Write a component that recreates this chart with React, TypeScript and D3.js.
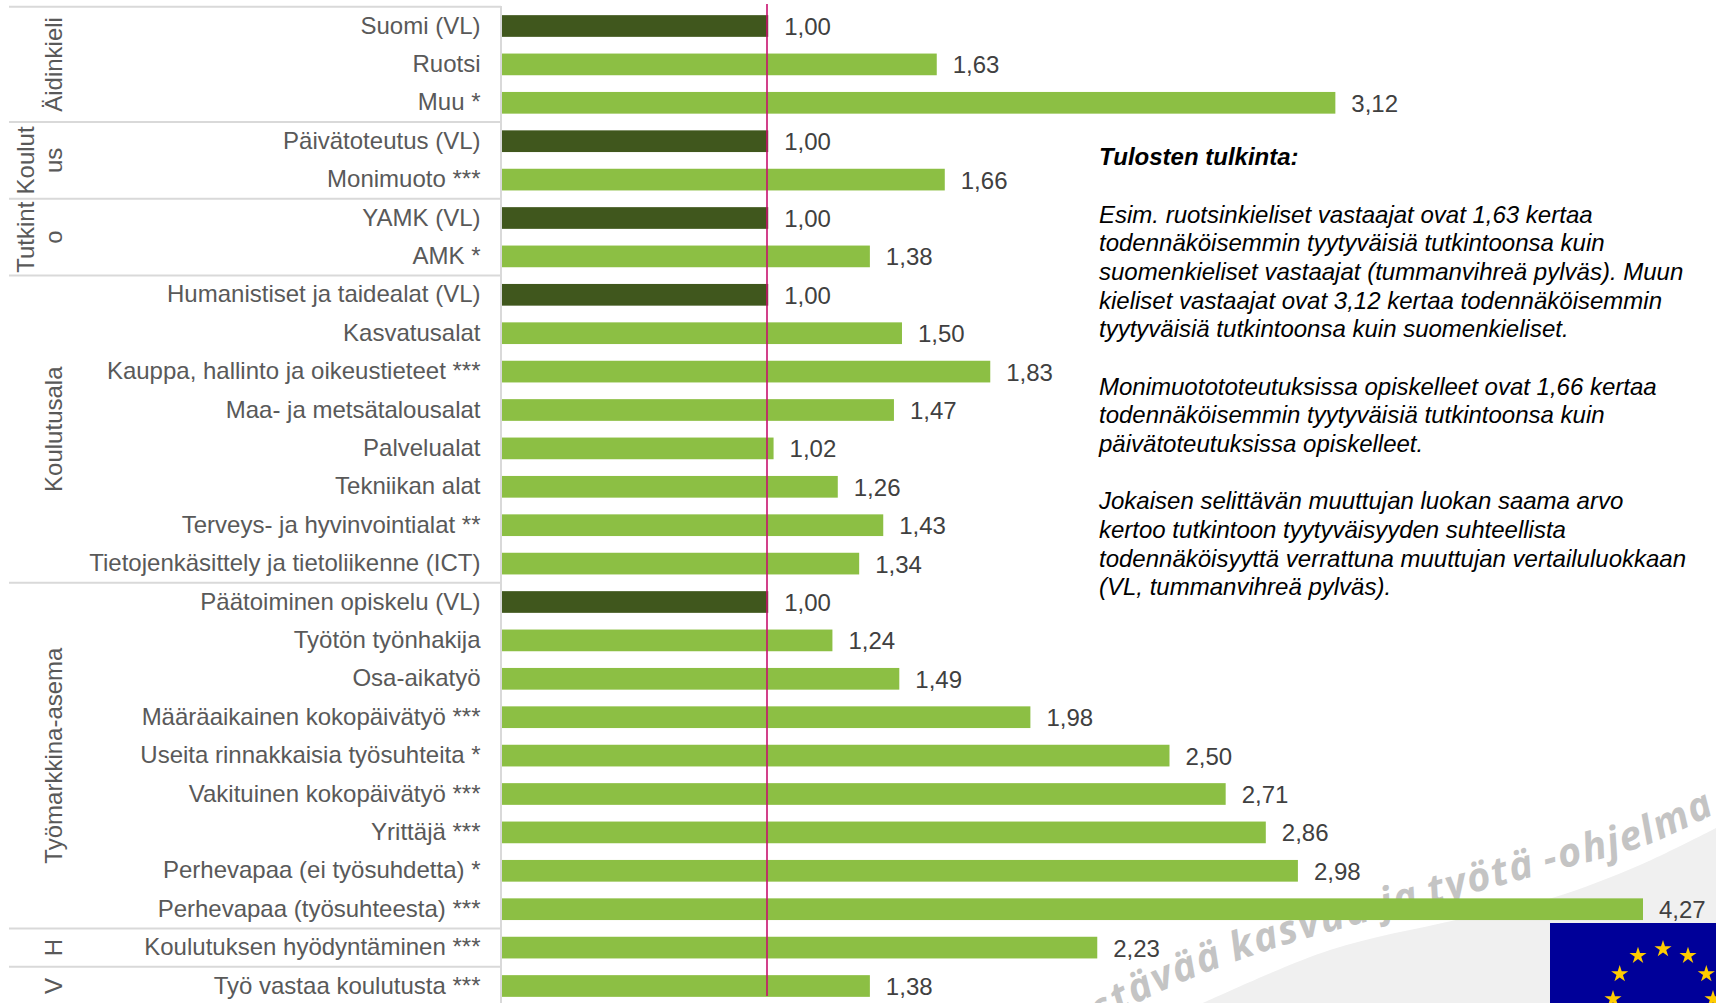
import React from "react";
import * as d3 from "d3";

const categories = ["Suomi (VL)","Ruotsi","Muu *","Päivätoteutus (VL)","Monimuoto ***","YAMK (VL)","AMK *","Humanistiset ja taidealat (VL)","Kasvatusalat","Kauppa, hallinto ja oikeustieteet ***","Maa- ja metsätalousalat","Palvelualat","Tekniikan alat","Terveys- ja hyvinvointialat **","Tietojenkäsittely ja tietoliikenne (ICT)","Päätoiminen opiskelu (VL)","Työtön työnhakija","Osa-aikatyö","Määräaikainen kokopäivätyö ***","Useita rinnakkaisia työsuhteita *","Vakituinen kokopäivätyö ***","Yrittäjä ***","Perhevapaa (ei työsuhdetta) *","Perhevapaa (työsuhteesta) ***","Koulutuksen hyödyntäminen ***","Työ vastaa koulutusta ***"];
const values = [1,1.63,3.12,1,1.66,1,1.38,1,1.5,1.83,1.47,1.02,1.26,1.43,1.34,1,1.24,1.49,1.98,2.5,2.71,2.86,2.98,4.27,2.23,1.38];
const groupNames = [["Äidinkieli"],["Koulut","us"],["Tutkint","o"],["Koulutusala"],["Työmarkkina-asema"],["H"],["V"]];
const groupSizes = [3,2,2,8,9,1,1];
const noteLines = [
  "Esim. ruotsinkieliset vastaajat ovat 1,63 kertaa","todennäköisemmin tyytyväisiä tutkintoonsa kuin","suomenkieliset vastaajat (tummanvihreä pylväs). Muun","kieliset vastaajat ovat 3,12 kertaa todennäköisemmin","tyytyväisiä tutkintoonsa kuin suomenkieliset.","",
  "Monimuotototeutuksissa opiskelleet ovat 1,66 kertaa","todennäköisemmin tyytyväisiä tutkintoonsa kuin","päivätoteutuksissa opiskelleet.","",
  "Jokaisen selittävän muuttujan luokan saama arvo","kertoo tutkintoon tyytyväisyyden suhteellista","todennäköisyyttä verrattuna muuttujan vertailuluokkaan","(VL, tummanvihreä pylväs)."];
const noteTitle = "Tulosten tulkinta:";
const watermark = "Kestävää kasvua ja työtä -ohjelma";
const starAngles = [0,30,60,90,120,150,180,210,240,270,300,330];

const W = 1716, H = 1003;
const FONT = "'Liberation Sans', Arial, sans-serif";
const x = d3.scaleLinear().domain([0, 4.27]).range([500.7, 1643]);
const y = d3.scaleBand<number>().domain(d3.range(categories.length)).range([6.8, 6.8 + 38.4 * 26]).paddingInner(0.435).paddingOuter(0.2175);
const fmt = (v: number) => v.toFixed(2).replace(".", ",");
const swoosh = (d3.line().curve(d3.curveCatmullRom)([[1203,1003],[1330,950],[1456,920],[1552,898],[1640,865],[1716,828]]) as string) + `L1716,1003Z`;
const arc = d3.line().curve(d3.curveCatmullRom)([[1040,1062],[1137,1003],[1260,953],[1447,900],[1557,870],[1644,846],[1730,806]]) as string;
const starPath = d3.range(10).map(i => { const r = i % 2 ? 3.4 : 9; const a = i * Math.PI / 5 - Math.PI / 2; return `${i ? "L" : "M"}${r * Math.cos(a)},${r * Math.sin(a)}`; }).join("") + "Z";

export default function App() {
  let cum = 0;
  const groups = groupSizes.map((s, i) => { const top = 6.8 + cum * 38.4; cum += s; return { top, bottom: 6.8 + cum * 38.4, names: groupNames[i] }; });
  return (
    <svg width={W} height={H} viewBox={`0 0 ${W} ${H}`} style={{ position: "fixed", left: 0, top: 0, display: "block", background: "#fff", fontFamily: FONT }}>
      <path d={swoosh} fill="#f0f0f0" />
      <defs><path id="wm" d={arc} /></defs>
      <text fontSize={40} fontStyle="italic" fontWeight={700} fill="#c4c4c4" fontFamily="'Open Sans', sans-serif" letterSpacing={1.8} wordSpacing={-2} textAnchor="end">
        <textPath href="#wm" startOffset="98%">{watermark}</textPath>
      </text>
      <rect x={1550} y={923} width={166} height={80} fill="#000099" />
      {starAngles.map(a => {
        const t = a * Math.PI / 180;
        return <path key={a} d={starPath} fill="#ffcc00" transform={`translate(${1663 + 50 * Math.sin(t)},${999 - 50 * Math.cos(t)})`} />;
      })}
      {groups.map((g, i) => (
        <g key={i}>
          <line x1={9} x2={501} y1={g.top} y2={g.top} stroke="#d9d9d9" strokeWidth={2} />
          {g.names.map((n, j) => {
            const cx = g.names.length > 1 ? 34 + j * 28 : 62;
            return <text key={j} transform={`translate(${cx},${(g.top + g.bottom) / 2}) rotate(-90)`} textAnchor="middle" fontSize={24} fill="#595959">{n}</text>;
          })}
        </g>
      ))}
      <line x1={501} x2={501} y1={6} y2={H} stroke="#d9d9d9" strokeWidth={2} />
      {categories.map((c, i) => {
        const yy = y(i) as number; const cy = yy + y.bandwidth() / 2;
        return (
          <g key={c}>
            <text x={480.5} y={cy + 7.6} textAnchor="end" fontSize={24} fill="#595959">{c}</text>
            <rect x={x(0) + 1.3} y={yy} width={x(values[i]) - x(0) - 1.3} height={y.bandwidth()} fill={values[i] === 1 ? "#40571d" : "#8cbf44"} />
            <text x={x(values[i]) + 16} y={cy + 9} fontSize={24} fill="#404040">{fmt(values[i])}</text>
          </g>
        );
      })}
      <line x1={767} x2={767} y1={4} y2={996} stroke="#c8106f" strokeWidth={1.6} />
      <text x={1099} y={164.5} fontSize={24} fontWeight={700} fontStyle="italic" fill="#000">{noteTitle}</text>
      {noteLines.map((l, i) => <text key={i} x={1099} y={222.6 + i * 28.66} fontSize={24} fontStyle="italic" fill="#000">{l}</text>)}
    </svg>
  );
}
